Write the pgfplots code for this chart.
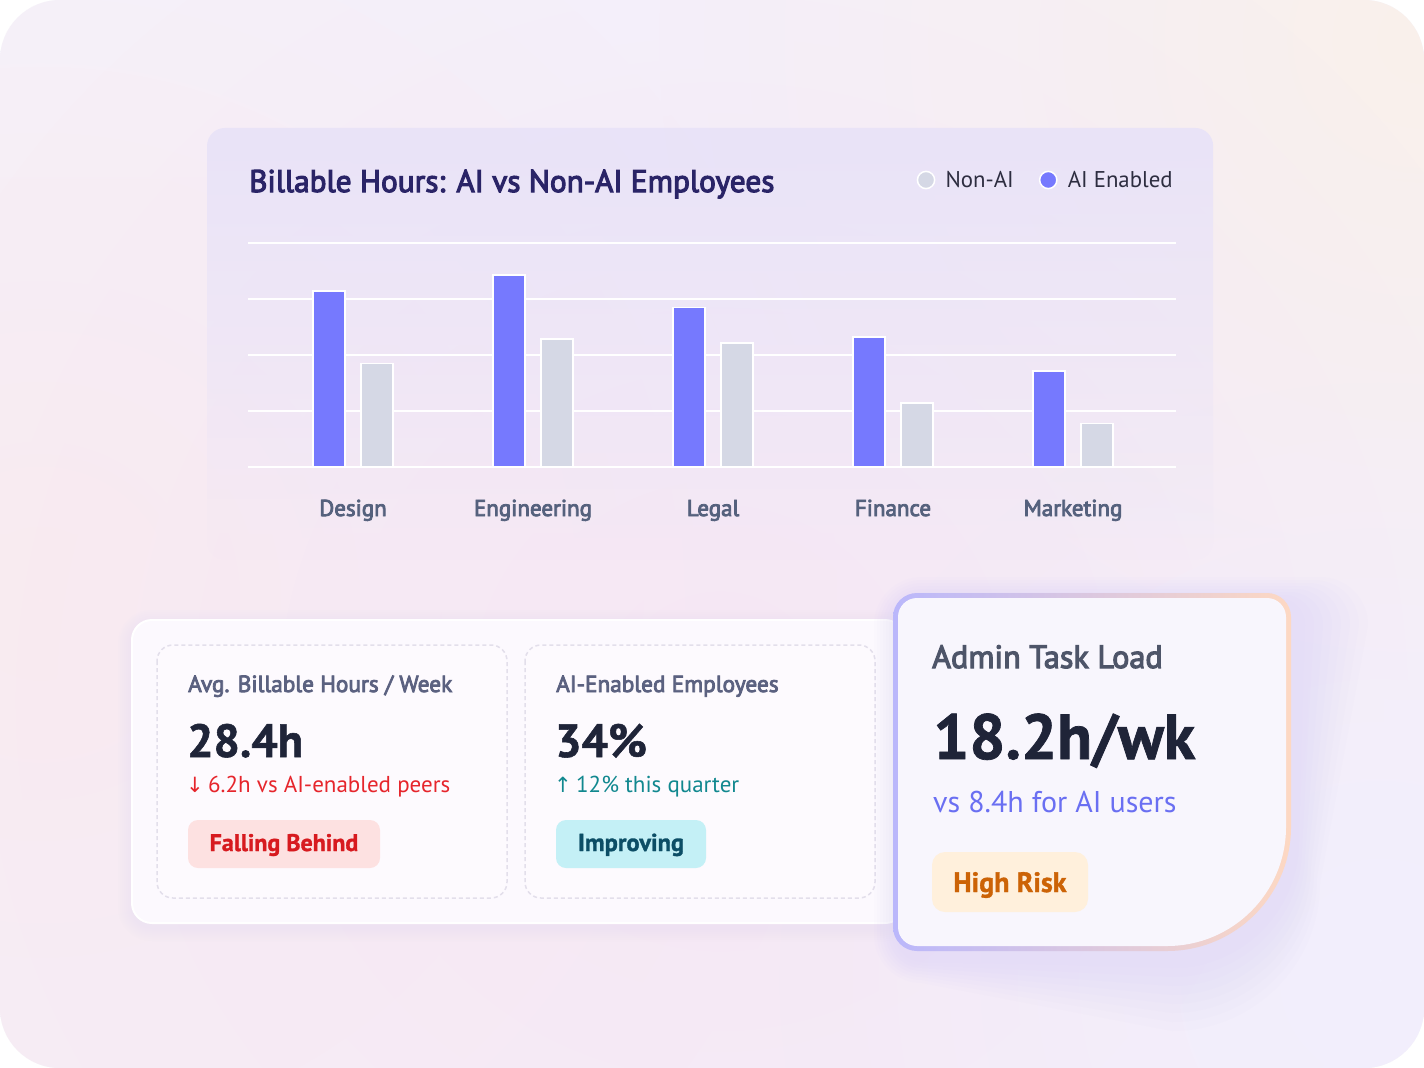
\documentclass[border=0pt]{standalone}
\usepackage{pgfplots}
\pgfplotsset{compat=1.18}
\usepackage{fontspec}
\usetikzlibrary{fadings}
\setmainfont{PT Sans}
\newfontfamily\medfont{PT Sans}[FakeBold=3.5]
\newfontfamily\heavyfont{PT Sans}[BoldFeatures={FakeBold=1.2}]
\newfontfamily\symfont{DejaVu Sans}
\newcommand\fs[1]{\fontsize{#1}{#1}\selectfont}

% palette
\definecolor{aicol}{HTML}{7679FE}
\definecolor{noncol}{HTML}{D5D8E5}
\definecolor{titlecol}{HTML}{2A2467}
\definecolor{catcol}{HTML}{55617D}
\definecolor{legcol}{HTML}{2D2D40}
\definecolor{labcol}{HTML}{5B6180}
\definecolor{numcol}{HTML}{1F2438}
\definecolor{redtxt}{HTML}{E6252C}
\definecolor{redbg}{HTML}{FDE1E1}
\definecolor{redbadge}{HTML}{D71A1F}
\definecolor{tealtxt}{HTML}{11888F}
\definecolor{tealbg}{HTML}{C4F0F6}
\definecolor{tealbadge}{HTML}{0C4E66}
\definecolor{admincol}{HTML}{4E5569}
\definecolor{vscol}{HTML}{6A6FF2}
\definecolor{riskbg}{HTML}{FFF0DC}
\definecolor{risktxt}{HTML}{CC6306}
\definecolor{bgtop}{HTML}{F4F2FC}
\definecolor{bgbot}{HTML}{F5EFF9}
\definecolor{pinkL}{HTML}{FAECF0}
\definecolor{peach}{HTML}{FAF0EB}
\definecolor{pinkC}{HTML}{F6E7F4}
\definecolor{lavR}{HTML}{F2EFFD}
\definecolor{panelcol}{HTML}{E9E3F8}
\definecolor{cardfill}{HTML}{FCF9FE}
\definecolor{dashcol}{HTML}{E3DFEB}
\definecolor{innerfill}{HTML}{FDFAFE}
\definecolor{glow}{HTML}{CFC6F7}
\definecolor{softsh}{HTML}{E2D9F2}
\definecolor{bordA}{HTML}{BAB7FB}
\definecolor{bordB}{HTML}{F3CFE8}
\definecolor{bordC}{HTML}{FDD8C3}
\definecolor{kpifill}{HTML}{F8F6FD}

\tikzfading[name=blob, inner color=transparent!0, outer color=transparent!100]
\tikzfading[name=panelfade, top color=transparent!0, bottom color=transparent!100]

% round legend swatch
\pgfplotsset{dotlegend/.style={legend image code/.code={%
  \path[fill=none, draw=none] (-9.5pt,-9.5pt) rectangle (19.5pt,9.5pt);
  \filldraw[##1] (0pt,0pt) circle (8.6pt);}}}

% card outline: left, top, right, bottom, corner radius, bottom-right radius (y grows downward)
\newcommand\cardpath[6]{(#1+#5,#2) -- (#3-#5,#2) arc[start angle=-90,end angle=0,radius=#5]
  -- (#3,#4-#6) arc[start angle=0,end angle=90,radius=#6]
  -- (#1+#5,#4) arc[start angle=90,end angle=180,radius=#5]
  -- (#1,#2+#5) arc[start angle=180,end angle=270,radius=#5] -- cycle}

% billable hours per week
\pgfplotstableread{
idx ai    non
0   31.4  18.5
1   34.3  22.9
2   28.5  22.1
3   23.2  11.4
4   17.1  7.8
}\hours

\begin{document}
\begin{tikzpicture}
\path[use as bounding box] (0pt,0pt) rectangle (1424pt,-1068pt);

\begin{scope}[x=1pt,y=-1pt]
  \fill[white] (0,0) rectangle (1424,1068);
  \begin{scope}
    \clip[rounded corners=60pt] (0,0) rectangle (1424,1068);
    \shade[top color=bgtop, bottom color=bgbot] (0,0) rectangle (1424,1068);
    \fill[pinkL, path fading=blob, fit fading=true] (40,600) circle (800);
    \fill[peach, path fading=blob, fit fading=true] (1420,40) circle (760);
    \fill[pinkC, path fading=blob, fit fading=true] (720,700) circle (880);
    \fill[lavR, path fading=blob, fit fading=true] (1380,980) circle (600);
  \end{scope}
  % chart panel
  \fill[panelcol, path fading=panelfade, fit fading=true, rounded corners=18pt]
    (208,128) rectangle (1216,560);
  \node[anchor=base west, inner sep=0pt, text=titlecol, font=\medfont\fs{31.3}]
    at (249,192) {Billable Hours: AI vs Non-AI Employees};
\end{scope}

\begin{axis}[
  at={(248pt,-467pt)}, anchor=south west,
  scale only axis, width=928pt, height=224pt,
  xmin=-0.58333, xmax=4.57222, ymin=0, ymax=40,
  axis line style={draw=none},
  major tick length=0pt,
  ytick={0,10,20,30,40}, yticklabels={},
  ymajorgrids, grid style={white, line width=2.5pt},
  xtick={0,1,2,3,4},
  xticklabels={Design,Engineering,Legal,Finance,Marketing},
  xticklabel style={font=\medfont\fs{23}, text=catcol, anchor=base, yshift=-49pt},
  ybar, bar width=32pt,
  clip=false,
  legend columns=2,
  legend cell align=left,
  legend style={at={(0.7204,1.28125)}, anchor=west, draw=none, fill=none,
    inner sep=0pt, outer sep=0pt, font=\fs{22.8}, text=legcol,
    nodes={inner sep=0pt},
    /tikz/column 2/.style={column sep=25pt}},
]
\addplot[fill=noncol, draw=white, line width=1.5pt, bar shift=24pt, dotlegend]
  table[x=idx, y=non] {\hours};
\addplot[fill=aicol, draw=white, line width=1.5pt, bar shift=-24pt, dotlegend]
  table[x=idx, y=ai] {\hours};
\legend{Non-AI, AI Enabled}
\end{axis}

\begin{scope}[x=1pt,y=-1pt]
  % KPI group card
  \foreach \e [evaluate=\e as \r using 20+\e] in {2,4,...,14}
    \fill[softsh, opacity=0.05, rounded corners=\r pt] (132-\e,624-\e) rectangle (905+\e,927+\e);
  \fill[cardfill, draw=white, line width=2pt, rounded corners=20pt] (132,620) rectangle (905,923);
  \foreach \l/\rr in {157/507, 525/875}
    \filldraw[fill=innerfill, draw=dashcol, line width=1.5pt, dash pattern=on 4pt off 3pt,
      rounded corners=16pt] (\l,645) rectangle (\rr,898);

  % card 1
  \node[anchor=base west, inner sep=0pt, text=labcol, font=\medfont\fs{23.3}] at (188,692) {Avg. Billable Hours / Week};
  \node[anchor=base west, inner sep=0pt, text=numcol, font=\heavyfont\bfseries\fs{46.5}] at (187,757) {28.4h};
  \node[anchor=base west, inner sep=0pt, text=redtxt, font=\symfont\fs{21}] at (186,792) {↓};
  \node[anchor=base west, inner sep=0pt, text=redtxt, font=\fs{23}] at (208,792) {6.2h vs AI-enabled peers};
  \fill[redbg, rounded corners=10pt] (188,820) rectangle (380,868);
  \node[anchor=base, inner sep=0pt, text=redbadge, font=\heavyfont\bfseries\fs{24}] at (284,851) {Falling Behind};

  % card 2
  \node[anchor=base west, inner sep=0pt, text=labcol, font=\medfont\fs{23.3}] at (556,692) {AI-Enabled Employees};
  \node[anchor=base west, inner sep=0pt, text=numcol, font=\heavyfont\bfseries\fs{46.5}] at (555,757) {34\%};
  \node[anchor=base west, inner sep=0pt, text=tealtxt, font=\symfont\fs{21}] at (554,792) {↑};
  \node[anchor=base west, inner sep=0pt, text=tealtxt, font=\fs{23}] at (576,792) {12\% this quarter};
  \fill[tealbg, rounded corners=10pt] (556,820) rectangle (706,868);
  \node[anchor=base, inner sep=0pt, text=tealbadge, font=\heavyfont\bfseries\fs{24.5}] at (631,851) {Improving};

  % admin load card
  \foreach \e in {3,6,...,24}
    \fill[glow, opacity=0.04] \cardpath{893-\e+5}{593-\e+8}{1291+\e+5}{951+\e+8}{24+\e}{124+\e};
  \shade[left color=bordA, middle color=bordB, right color=bordC] \cardpath{893}{593}{1291}{951}{24}{124};
  \fill[kpifill] \cardpath{898}{598}{1286}{946}{19}{119};
  \node[anchor=base west, inner sep=0pt, text=admincol, font=\medfont\fs{32.2}] at (932,668) {Admin Task Load};
  \node[anchor=base west, inner sep=0pt, text=numcol, font=\heavyfont\bfseries\fs{63.7}] at (933,759) {18.2h/wk};
  \node[anchor=base west, inner sep=0pt, text=vscol, font=\fs{30}] at (933,812) {vs 8.4h for AI users};
  \fill[riskbg, rounded corners=13pt] (932,852) rectangle (1088,912);
  \node[anchor=base, inner sep=0pt, text=risktxt, font=\heavyfont\bfseries\fs{28}] at (1010,892) {High Risk};
\end{scope}
\end{tikzpicture}
\end{document}
